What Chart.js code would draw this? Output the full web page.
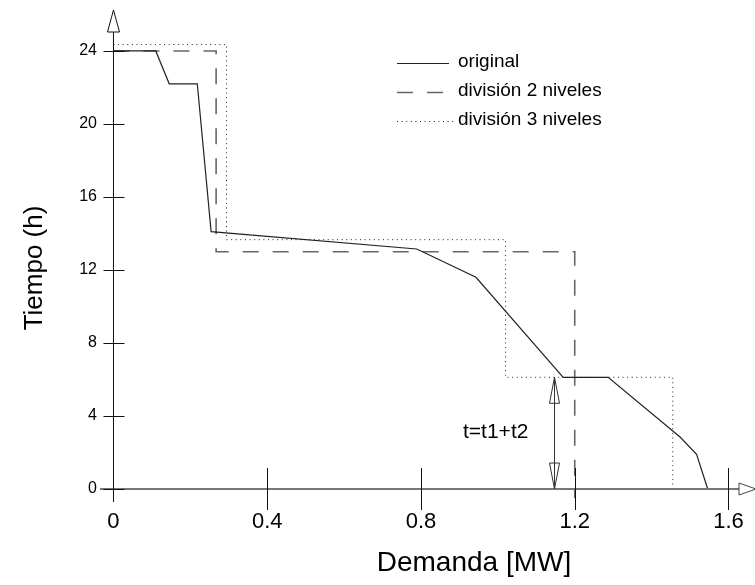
<!DOCTYPE html>
<html>
<head>
<meta charset="utf-8">
<script src="https://cdn.jsdelivr.net/npm/chart.js@4/dist/chart.umd.min.js"></script>
<style>
  html, body { margin: 0; padding: 0; background: #fff; }
  #wrap { width: 755px; height: 585px; }
</style>
</head>
<body>
<div id="wrap"><canvas id="chart" width="755" height="585"></canvas></div>
<script>
// curva original (demanda vs tiempo)
const originalX = [0, 0.11, 0.145, 0.218, 0.254, 0.789, 0.943, 1.17, 1.287, 1.474, 1.517, 1.546];
const originalY = [24, 24, 22.2, 22.2, 14.1, 13.15, 11.6, 6.12, 6.12, 2.85, 1.9, 0];

// division en 2 niveles
const div2X = [0, 0.267, 0.267, 1.2, 1.2];
const div2Y = [24, 24, 13, 13, -0.5];

// division en 3 niveles
const div3X = [0, 0.294, 0.294, 1.02, 1.02, 1.455, 1.455];
const div3Y = [24.35, 24.35, 13.66, 13.66, 6.12, 6.12, 0];

const xTicks = [0, 0.4, 0.8, 1.2, 1.6];
const xTickLabels = ['0', '0.4', '0.8', '1.2', '1.6'];
const yTicks = [0, 4, 8, 12, 16, 20, 24];
const yTickLabels = ['0', '4', '8', '12', '16', '20', '24'];

// flecha t = t1 + t2
const arrowX = 1.147;
const arrowY = [0, 6.12];

const FONT = '"Liberation Sans", Arial, sans-serif';

const toPoints = (xs, ys) => xs.map((x, i) => ({ x: x, y: ys[i] }));

const datasets = [
  {
    label: 'original',
    data: toPoints(originalX, originalY),
    borderColor: '#222',
    borderWidth: 1.2,
    borderDash: []
  },
  {
    label: 'división 2 niveles',
    data: toPoints(div2X, div2Y),
    borderColor: '#666',
    borderWidth: 1.6,
    borderDash: [16, 14]
  },
  {
    label: 'división 3 niveles',
    data: toPoints(div3X, div3Y),
    borderColor: '#222',
    borderWidth: 1,
    borderDash: [1, 3.6]
  }
];

function hollowArrow(ctx, x, y, dir, len, half) {
  // dir: vector unitario hacia la punta
  const bx = x - dir[0] * len, by = y - dir[1] * len;
  const px = -dir[1] * half, py = dir[0] * half;
  ctx.beginPath();
  ctx.moveTo(x, y);
  ctx.lineTo(bx + px, by + py);
  ctx.lineTo(bx - px, by - py);
  ctx.closePath();
  ctx.fillStyle = '#fff';
  ctx.fill();
  ctx.stroke();
}

const decoPlugin = {
  id: 'deco',
  afterDatasetsDraw(chart) {
    const ctx = chart.ctx;
    const xs = chart.scales.x, ys = chart.scales.y;
    const x0 = xs.getPixelForValue(0), y0 = ys.getPixelForValue(0);
    ctx.save();

    // eje X
    ctx.strokeStyle = '#777';
    ctx.lineWidth = 2;
    ctx.beginPath();
    ctx.moveTo(100, y0);
    ctx.lineTo(739, y0);
    ctx.stroke();
    ctx.lineWidth = 1;
    ctx.strokeStyle = '#444';
    hollowArrow(ctx, 756, y0, [1, 0], 17, 6);

    // eje Y
    ctx.strokeStyle = '#111';
    ctx.lineWidth = 1;
    ctx.beginPath();
    ctx.moveTo(x0, 502);
    ctx.lineTo(x0, 32);
    ctx.stroke();
    hollowArrow(ctx, x0, 10, [0, -1], 22, 6);

    // marcas
    ctx.strokeStyle = '#111';
    xTicks.forEach(v => {
      if (v === 0) return;
      const px = Math.round(xs.getPixelForValue(v)) + 0.5;
      ctx.beginPath();
      ctx.moveTo(px, y0 - 21);
      ctx.lineTo(px, y0 + 21);
      ctx.stroke();
    });
    yTicks.forEach(v => {
      const py = Math.round(ys.getPixelForValue(v)) + 0.5;
      ctx.beginPath();
      ctx.moveTo(x0 - 10, py);
      ctx.lineTo(x0 + 11, py);
      ctx.stroke();
    });

    // flecha doble t
    const ax = Math.round(xs.getPixelForValue(arrowX)) + 0.5;
    const aTop = ys.getPixelForValue(arrowY[1]);
    const aBot = ys.getPixelForValue(arrowY[0]);
    ctx.strokeStyle = '#333';
    ctx.beginPath();
    ctx.moveTo(ax, aTop);
    ctx.lineTo(ax, aBot);
    ctx.stroke();
    hollowArrow(ctx, ax, aTop, [0, -1], 26, 5);
    hollowArrow(ctx, ax, aBot, [0, 1], 26, 5);
    ctx.beginPath();
    ctx.moveTo(ax, aTop);
    ctx.lineTo(ax, aBot);
    ctx.stroke();

    ctx.fillStyle = '#000';
    ctx.font = '21px ' + FONT;
    ctx.textAlign = 'left';
    ctx.textBaseline = 'alphabetic';
    ctx.fillText('t=t1+t2', 463, 438);

    // leyenda
    const legendRows = [63, 92, 121];
    chart.data.datasets.forEach((ds, i) => {
      const ly = legendRows[i] + 0.5;
      ctx.strokeStyle = ds.borderColor;
      ctx.lineWidth = ds.borderWidth;
      ctx.setLineDash(ds.borderDash);
      ctx.beginPath();
      ctx.moveTo(397, ly);
      ctx.lineTo(i === 2 ? 455 : 449, ly);
      ctx.stroke();
      ctx.setLineDash([]);
      ctx.fillStyle = '#000';
      ctx.font = '19px ' + FONT;
      ctx.textAlign = 'left';
      ctx.textBaseline = 'alphabetic';
      ctx.fillText(ds.label, 458, legendRows[i] + 4);
    });

    // titulos de ejes
    ctx.fillStyle = '#000';
    ctx.font = '28px ' + FONT;
    ctx.textAlign = 'center';
    ctx.textBaseline = 'middle';
    ctx.fillText('Demanda [MW]', 474, 563);
    ctx.save();
    ctx.translate(35, 268);
    ctx.rotate(-Math.PI / 2);
    ctx.font = '26px ' + FONT;
    ctx.fillText('Tiempo (h)', 0, 0);
    ctx.restore();

    ctx.restore();
  }
};

new Chart(document.getElementById('chart').getContext('2d'), {
  type: 'scatter',
  data: { datasets: datasets.map(d => Object.assign({
    showLine: true,
    fill: false,
    pointRadius: 0,
    pointHoverRadius: 0,
    tension: 0,
    clip: false
  }, d)) },
  options: {
    responsive: false,
    animation: false,
    devicePixelRatio: 1,
    layout: { padding: { top: 10, left: 0, right: 0, bottom: 0 } },
    plugins: { legend: { display: false }, tooltip: { enabled: false } },
    scales: {
      x: {
        type: 'linear',
        min: -0.0351,
        max: 1.669,
        grid: { display: false, drawTicks: false },
        border: { display: false },
        afterBuildTicks: (s) => { s.ticks = xTicks.map(v => ({ value: v })); },
        afterFit: (s) => { s.height = 79; },
        ticks: {
          autoSkip: false,
          maxRotation: 0,
          padding: 3,
          color: '#000',
          font: { family: FONT, size: 22 },
          callback: (v) => xTickLabels[xTicks.indexOf(v)]
        }
      },
      y: {
        type: 'linear',
        min: -0.93,
        max: 26.1,
        grid: { display: false, drawTicks: false },
        border: { display: false },
        afterBuildTicks: (s) => { s.ticks = yTicks.map(v => ({ value: v })); },
        afterFit: (s) => { s.width = 100; },
        ticks: {
          autoSkip: false,
          padding: 3,
          color: '#000',
          font: { family: FONT, size: 16 },
          callback: (v) => yTickLabels[yTicks.indexOf(v)]
        }
      }
    }
  },
  plugins: [decoPlugin]
});
</script>
</body>
</html>
